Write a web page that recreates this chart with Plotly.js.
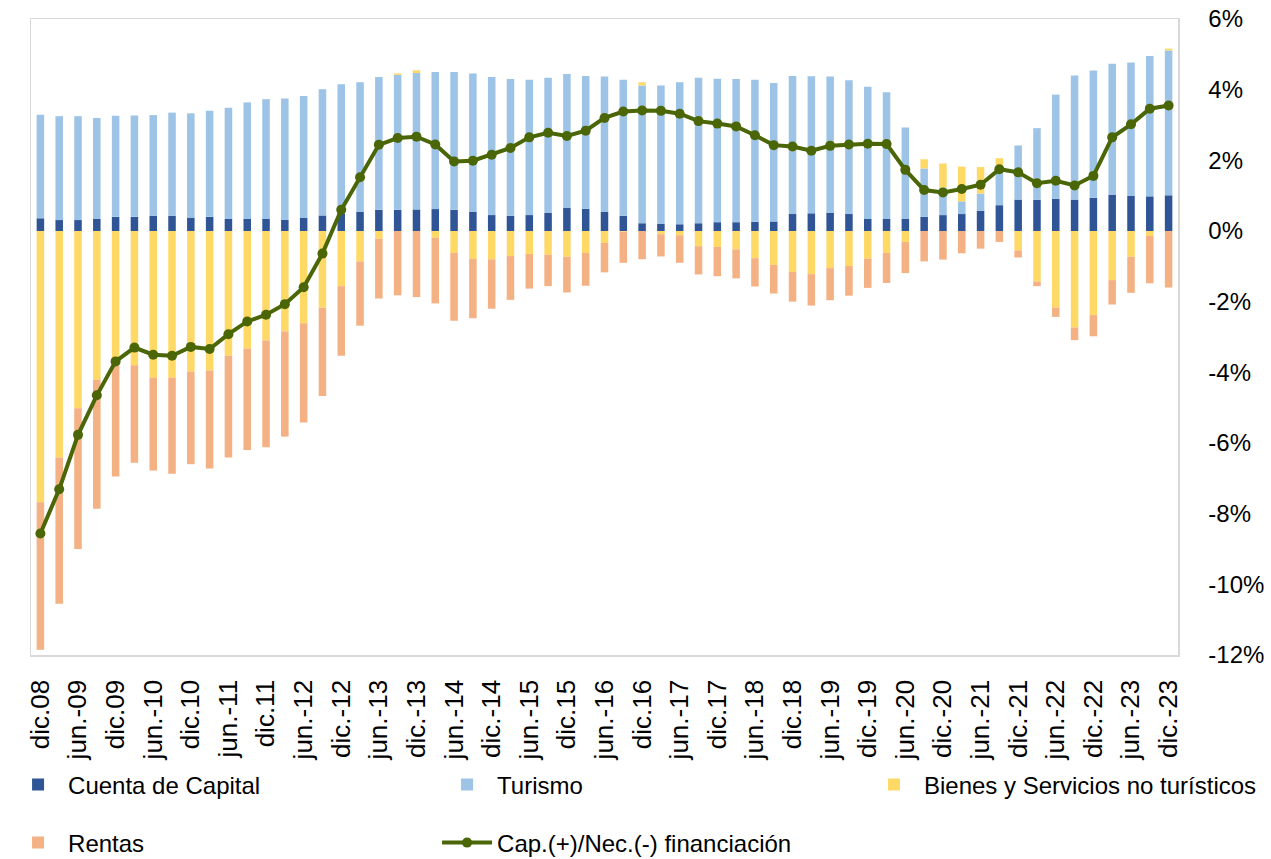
<!DOCTYPE html>
<html>
<head>
<meta charset="utf-8">
<script src="https://cdn.plot.ly/plotly-3.0.1.min.js"></script>
<style>html,body{margin:0;padding:0;background:#fff;}#chart{width:1271px;height:859px;}</style>
</head>
<body>
<div id="chart"></div>
<script>
// Quarterly periods (rolling annual, % of GDP)
const quarters = ["dic.08","mar.-09","jun.-09","sep.-09","dic.09","mar.-10","jun.-10","sep.-10","dic.10","mar.-11","jun.-11","sep.-11","dic.11","mar.-12","jun.-12","sep.-12","dic.-12","mar.-13","jun.-13","sep.-13","dic.-13","mar.-14","jun.-14","sep.-14","dic.-14","mar.-15","jun.-15","sep.-15","dic.15","mar.-16","jun.-16","sep.-16","dic.16","mar.-17","jun.-17","sep.-17","dic.17","mar.-18","jun.-18","sep.-18","dic.18","mar.-19","jun.-19","sep.-19","dic.-19","mar.-20","jun.-20","sep.-20","dic.-20","mar.-21","jun.-21","sep.-21","dic.-21","mar.-22","jun.-22","sep.-22","dic.-22","mar.-23","jun.-23","sep.-23","dic.-23"];

const tickLabels = ["dic.08","jun.-09","dic.09","jun.-10","dic.10","jun.-11","dic.11","jun.-12","dic.-12","jun.-13","dic.-13","jun.-14","dic.-14","jun.-15","dic.15","jun.-16","dic.16","jun.-17","dic.17","jun.-18","dic.18","jun.-19","dic.-19","jun.-20","dic.-20","jun.-21","dic.-21","jun.-22","dic.-22","jun.-23","dic.-23"];

const cuentaCapital = [0.36,0.31,0.31,0.34,0.40,0.40,0.43,0.43,0.38,0.40,0.34,0.34,0.34,0.32,0.37,0.44,0.50,0.54,0.60,0.60,0.61,0.62,0.60,0.54,0.45,0.43,0.45,0.51,0.65,0.63,0.54,0.43,0.22,0.20,0.19,0.22,0.25,0.25,0.26,0.27,0.48,0.50,0.52,0.48,0.34,0.34,0.35,0.40,0.45,0.48,0.57,0.73,0.89,0.88,0.91,0.89,0.94,1.03,0.99,0.98,1.01];

const turismo = [2.93,2.94,2.94,2.86,2.86,2.87,2.85,2.92,2.95,3.00,3.15,3.30,3.39,3.43,3.45,3.57,3.65,3.67,3.76,3.82,3.86,3.88,3.90,3.92,3.91,3.87,3.83,3.83,3.79,3.76,3.83,3.85,3.90,3.92,4.02,4.12,4.06,4.05,4.02,3.92,3.91,3.88,3.85,3.79,3.74,3.59,2.58,1.37,0.78,0.36,0.49,1.13,1.53,2.03,2.95,3.51,3.60,3.70,3.78,3.97,4.10];

const bienesServicios = [-7.68,-6.41,-5.02,-4.21,-3.78,-3.80,-4.15,-4.15,-3.98,-3.95,-3.53,-3.33,-3.10,-2.84,-2.61,-2.17,-1.56,-0.86,-0.22,0.04,0.08,-0.19,-0.62,-0.79,-0.80,-0.71,-0.65,-0.67,-0.73,-0.62,-0.34,-0.02,0.09,-0.09,-0.12,-0.43,-0.45,-0.52,-0.77,-0.96,-1.16,-1.22,-1.05,-0.99,-0.78,-0.62,-0.31,0.26,0.68,0.98,0.75,0.20,-0.55,-1.43,-2.17,-2.73,-2.38,-1.39,-0.73,-0.14,0.05];

const rentas = [-4.17,-4.14,-3.98,-3.65,-3.17,-2.76,-2.63,-2.72,-2.62,-2.77,-2.88,-2.87,-3.02,-2.98,-2.81,-2.50,-1.97,-1.82,-1.69,-1.82,-1.87,-1.86,-1.92,-1.68,-1.40,-1.24,-0.98,-0.89,-1.01,-0.93,-0.83,-0.88,-0.80,-0.63,-0.78,-0.80,-0.83,-0.82,-0.80,-0.81,-0.84,-0.89,-0.91,-0.84,-0.83,-0.85,-0.88,-0.86,-0.81,-0.63,-0.50,-0.31,-0.20,-0.13,-0.26,-0.36,-0.60,-0.69,-1.02,-1.34,-1.60];

const capNecFinanciacion = [-8.56,-7.31,-5.77,-4.65,-3.69,-3.30,-3.50,-3.53,-3.28,-3.34,-2.92,-2.56,-2.37,-2.07,-1.59,-0.64,0.60,1.52,2.44,2.63,2.67,2.45,1.97,1.99,2.16,2.35,2.65,2.78,2.69,2.84,3.20,3.38,3.41,3.40,3.32,3.11,3.04,2.96,2.71,2.43,2.39,2.27,2.41,2.45,2.47,2.46,1.73,1.16,1.09,1.19,1.31,1.75,1.66,1.35,1.42,1.29,1.56,2.65,3.02,3.46,3.55];

const yTicks = [-12,-10,-8,-6,-4,-2,0,2,4,6];

const FONT = '"Liberation Sans", Arial, sans-serif';

const traces = [
  {type:'bar', name:'Cuenta de Capital', x:quarters, y:cuentaCapital, marker:{color:'#2F5597', line:{width:0}}, legend:'legend'},
  {type:'bar', name:'Turismo', x:quarters, y:turismo, marker:{color:'#9DC3E6', line:{width:0}}, legend:'legend'},
  {type:'bar', name:'Bienes y Servicios no turísticos', x:quarters, y:bienesServicios, marker:{color:'#FFD966', line:{width:0}}, legend:'legend3'},
  {type:'bar', name:'Rentas', x:quarters, y:rentas, marker:{color:'#F4B183', line:{width:0}}, legend:'legend2'},
  {type:'scatter', mode:'lines+markers', name:'Cap.(+)/Nec.(-) financiación', x:quarters, y:capNecFinanciacion,
   line:{color:'#4A6606', width:4}, marker:{color:'#4A6606', size:10}, legend:'legend2'}
];

function legendBox(x, y) {
  return {
    orientation:'h', x:x, xanchor:'left', y:y, yanchor:'middle',
    entrywidth:364, entrywidthmode:'pixels',
    font:{family:FONT, size:24, color:'#000'},
    bgcolor:'rgba(0,0,0,0)', itemwidth:50
  };
}

const layout = {
  width:1271, height:859,
  margin:{l:31, r:93, t:19, b:204, autoexpand:false},
  paper_bgcolor:'#ffffff', plot_bgcolor:'#ffffff',
  font:{family:FONT, size:24, color:'#000000'},
  barmode:'relative',
  bargap:0.6,
  showlegend:true,
  xaxis:{
    type:'category', automargin:false,
    categoryorder:'array', categoryarray:quarters,
    tickmode:'array', tickvals:tickLabels, ticktext:tickLabels,
    tickangle:-90,
    ticks:'outside', ticklen:13, tickcolor:'rgba(0,0,0,0)',
    tickfont:{family:FONT, size:26, color:'#000'},
    showgrid:false, zeroline:false,
    showline:true, mirror:true, linecolor:'#D9D9D9', linewidth:1.5,
    range:[-0.5, quarters.length-0.5]
  },
  yaxis:{
    side:'right', automargin:false,
    range:[-12,6],
    tickmode:'array', tickvals:yTicks, ticktext:yTicks.map(v => v + '%'),
    ticks:'outside', ticklen:24, tickcolor:'rgba(0,0,0,0)',
    tickfont:{family:FONT, size:24, color:'#000'},
    showgrid:false, zeroline:false,
    showline:true, mirror:true, linecolor:'#D9D9D9', linewidth:1.5
  },
  legend: legendBox(-0.020, -0.2044),
  legend3: legendBox(0.7262, -0.2044),
  legend2: legendBox(-0.020, -0.2956)
};

Plotly.newPlot('chart', traces, layout, {displayModeBar:false, staticPlot:true});
</script>
</body>
</html>
